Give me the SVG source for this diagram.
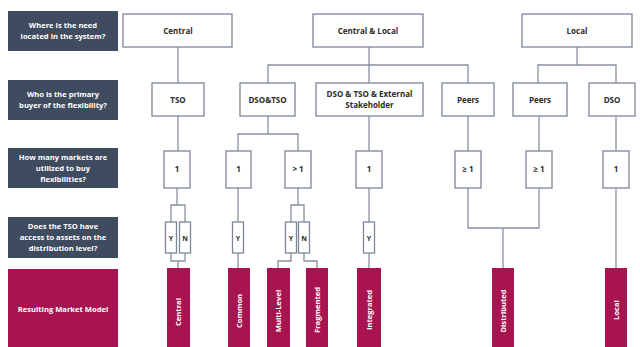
<svg xmlns="http://www.w3.org/2000/svg" width="640" height="347" viewBox="0 0 640 347">
<style>
.q{fill:#3f4b5f}
.qt{fill:#fff;font-family:"Open Sans","Liberation Sans",sans-serif;font-size:7.6px;font-weight:bold;text-anchor:middle}
.b{fill:#fff;stroke:#7d8798;stroke-width:1.3}
.bt{fill:#2b2b2b;font-family:"Open Sans","Liberation Sans",sans-serif;font-size:8px;font-weight:bold;text-anchor:middle}
.st{fill:#2b2b2b;font-family:"Open Sans","Liberation Sans",sans-serif;font-size:7px;font-weight:bold;text-anchor:middle}
.m{fill:#a8144f}
.mt{fill:#fff;font-family:"Open Sans","Liberation Sans",sans-serif;font-size:7.6px;font-weight:bold;text-anchor:middle}
.c{fill:none;stroke:#8891a0;stroke-width:1.3}
</style>
<rect width="640" height="347" fill="#fff"/>
<g id="q1"><rect class="q" x="8" y="11" width="110" height="40"/><text class="qt" x="63" y="28">Where is the need</text><text class="qt" x="63" y="39">located in the system?</text></g>
<g id="q2"><rect class="q" x="8" y="80" width="110" height="40"/><text class="qt" x="63" y="97">Who is the primary</text><text class="qt" x="63" y="108">buyer of the flexibility?</text></g>
<g id="q3"><rect class="q" x="8" y="148" width="110" height="40"/><text class="qt" x="63" y="160">How many markets are</text><text class="qt" x="63" y="171">utilized to buy</text><text class="qt" x="63" y="182">flexibilities?</text></g>
<g id="q4"><rect class="q" x="8" y="217" width="110" height="41"/><text class="qt" x="63" y="229">Does the TSO have</text><text class="qt" x="63" y="240">access to assets on the</text><text class="qt" x="63" y="251">distribution level?</text></g>
<g id="q5"><rect class="m" x="8" y="269" width="110" height="78"/><text class="mt" x="63" y="312">Resulting Market Model</text></g>

<g id="connectors">
<path class="c" d="M178 47V83"/>
<path class="c" d="M369 47V65M268 83V65H468V83M369 65V83"/>
<path class="c" d="M577 47V65M538 83V65H616V83"/>
<path class="c" d="M178 116V151"/>
<path class="c" d="M268 116V134M238 151V134H298V151"/>
<path class="c" d="M369 116V151M468 116V151M539 116V151M616 116V151"/>
<path class="c" d="M177 188V205M171 222V205H185V222"/>
<path class="c" d="M171 253V261H185V253M178 261V268"/>
<path class="c" d="M238 188V222M238 253V268"/>
<path class="c" d="M298 188V205M291 222V205H304V222"/>
<path class="c" d="M291 253V261H278V268M304 253V261H317V268"/>
<path class="c" d="M369 188V222M369 253V268"/>
<path class="c" d="M468 188V228H539V188M503 228V268"/>
<path class="c" d="M616 188V268"/>
</g>

<g id="central"><rect class="b" x="123" y="14" width="109" height="33"/><text class="bt" x="178" y="33.5">Central</text></g>
<g id="centrallocal"><rect class="b" x="313" y="14" width="110" height="33"/><text class="bt" x="368" y="33.5">Central &amp; Local</text></g>
<g id="local"><rect class="b" x="522" y="14" width="110" height="33"/><text class="bt" x="577" y="33.5">Local</text></g>

<g id="tso"><rect class="b" x="152" y="83" width="52" height="33"/><text class="bt" x="178" y="102.5">TSO</text></g>
<g id="dsotso"><rect class="b" x="240" y="83" width="55" height="33"/><text class="bt" x="267.5" y="102.5">DSO&amp;TSO</text></g>
<g id="dsotsoext"><rect class="b" x="316" y="83" width="107" height="33"/><text class="bt" x="369.5" y="97">DSO &amp; TSO &amp; External</text><text class="bt" x="369.5" y="108">Stakeholder</text></g>
<g id="peers1"><rect class="b" x="442" y="83" width="52" height="33"/><text class="bt" x="468" y="102.5">Peers</text></g>
<g id="peers2"><rect class="b" x="513" y="83" width="54" height="33"/><text class="bt" x="540" y="102.5">Peers</text></g>
<g id="dso"><rect class="b" x="589" y="83" width="46" height="33"/><text class="bt" x="612" y="102.5">DSO</text></g>

<g id="n1"><rect class="b" x="164" y="151" width="26" height="37"/><text class="bt" x="177" y="172">1</text></g>
<g id="n2"><rect class="b" x="226" y="151" width="25" height="37"/><text class="bt" x="238.5" y="172">1</text></g>
<g id="n3"><rect class="b" x="285" y="151" width="26" height="37"/><text class="bt" x="298" y="172">&gt; 1</text></g>
<g id="n4"><rect class="b" x="356" y="151" width="26" height="37"/><text class="bt" x="369" y="172">1</text></g>
<g id="n5"><rect class="b" x="455" y="151" width="26" height="37"/><text class="bt" x="468" y="172">≥ 1</text></g>
<g id="n6"><rect class="b" x="526" y="151" width="26" height="37"/><text class="bt" x="539" y="172">≥ 1</text></g>
<g id="n7"><rect class="b" x="603" y="151" width="26" height="37"/><text class="bt" x="616" y="172">1</text></g>

<g id="y1"><rect class="b" x="165.5" y="222" width="11" height="31"/><text class="st" x="171" y="240.5">Y</text></g>
<g id="n1b"><rect class="b" x="179.5" y="222" width="11" height="31"/><text class="st" x="185" y="240.5">N</text></g>
<g id="y2"><rect class="b" x="232.5" y="222" width="11" height="31"/><text class="st" x="238" y="240.5">Y</text></g>
<g id="y3"><rect class="b" x="285.5" y="222" width="11" height="31"/><text class="st" x="291" y="240.5">Y</text></g>
<g id="n3b"><rect class="b" x="298.5" y="222" width="11" height="31"/><text class="st" x="304" y="240.5">N</text></g>
<g id="y4"><rect class="b" x="363.5" y="222" width="11" height="31"/><text class="st" x="369" y="240.5">Y</text></g>

<g id="mCentral"><rect class="m" x="167" y="268" width="23" height="79"/><text class="mt" transform="translate(181.3 312) rotate(-90)">Central</text></g>
<g id="mCommon"><rect class="m" x="228" y="268" width="22" height="79"/><text class="mt" transform="translate(241.8 311) rotate(-90)">Common</text></g>
<g id="mMulti"><rect class="m" x="267" y="268" width="23" height="79"/><text class="mt" transform="translate(281.3 311) rotate(-90)">Multi-Level</text></g>
<g id="mFrag"><rect class="m" x="306" y="268" width="22" height="79"/><text class="mt" transform="translate(319.8 310) rotate(-90)">Fragmented</text></g>
<g id="mInt"><rect class="m" x="357" y="268" width="24" height="79"/><text class="mt" transform="translate(371.8 310) rotate(-90)">Integrated</text></g>
<g id="mDist"><rect class="m" x="492" y="268" width="22" height="79"/><text class="mt" transform="translate(505.8 311) rotate(-90)">Distributed</text></g>
<g id="mLocal"><rect class="m" x="605" y="268" width="22" height="79"/><text class="mt" transform="translate(618.8 310) rotate(-90)">Local</text></g>
</svg>
